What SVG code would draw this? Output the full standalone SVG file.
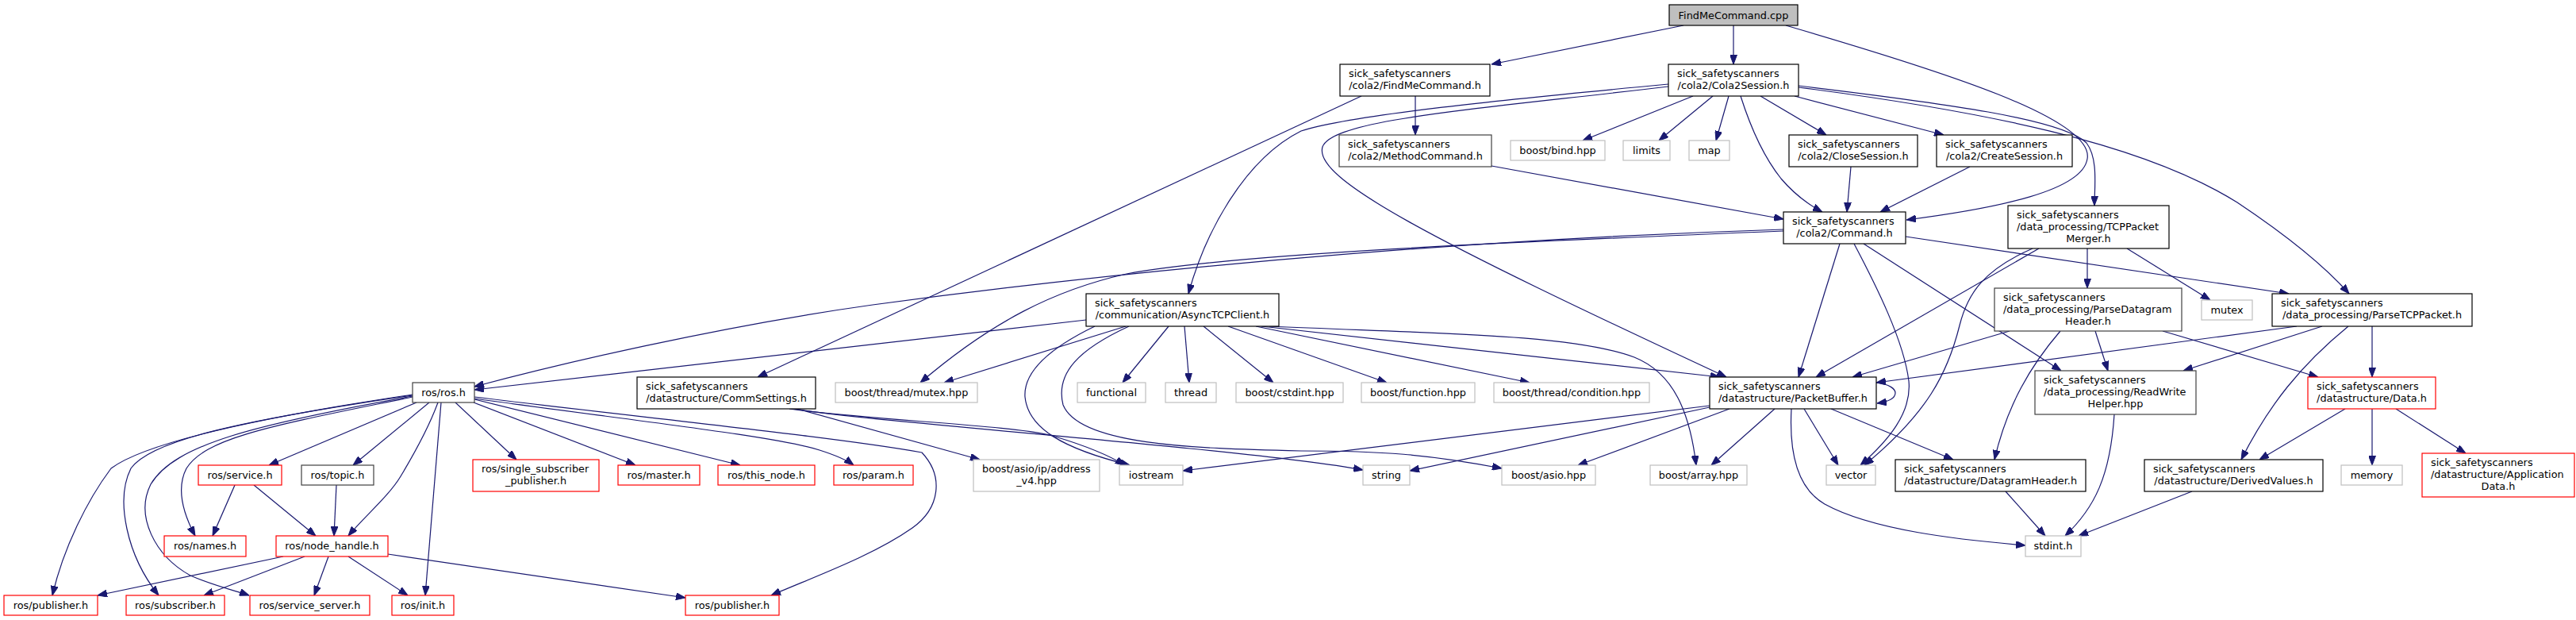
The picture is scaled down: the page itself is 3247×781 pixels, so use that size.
<svg xmlns="http://www.w3.org/2000/svg" width="3247" height="781" viewBox="0 0 3247 781">
<style>
rect{fill:#fff;stroke-width:1.2}
.k{stroke:#000}
.d{stroke:#404040}
.g{stroke:#bfbfbf}
.r{stroke:#ff0000}
.root{fill:#bfbfbf;stroke:#000}
text{font-family:"DejaVu Sans","Liberation Sans",sans-serif;font-size:12.85px;fill:#000}
.c{text-anchor:middle}
#edges path{fill:none;stroke:#191970;stroke-width:1.2;marker-end:url(#a)}
</style>
<defs>
<marker id="a" markerWidth="12" markerHeight="9" refX="12" refY="4.5" orient="auto" markerUnits="userSpaceOnUse"><path d="M0,0 L12,4.5 L0,9 z" fill="#191970" stroke="#191970" stroke-width="1"/></marker>
</defs>
<rect x="0" y="0" width="3247" height="781" style="fill:#fff;stroke:none"/>
<g id="edges">
<path d="M2122,32 L1880,81"/>
<path d="M2185,32 L2185,81"/>
<path d="M2251,32 C2450,90 2640,150 2631,200 C2625,240 2520,262 2403,277"/>
<path d="M1784,121 L1784,170"/>
<path d="M1716,121 L955,475"/>
<path d="M1880,209 L2248,276"/>
<path d="M2134,121 L1995,177"/>
<path d="M2159,121 L2091,177"/>
<path d="M2179,121 L2163,177"/>
<path d="M2219,121 L2302,170"/>
<path d="M2262,121 L2450,170"/>
<path d="M2194,121 C2208,165 2225,200 2245,225 C2262,245 2280,258 2297,267"/>
<path d="M2267,108 C2450,130 2600,150 2630,180 C2645,200 2640,235 2640,259"/>
<path d="M2267,110 C2500,140 2700,180 2820,255 C2880,295 2930,335 2961,370"/>
<path d="M2103,106 C1900,125 1700,145 1640,165 C1570,200 1520,290 1498,370"/>
<path d="M2103,109 C1860,138 1680,150 1667,185 C1655,225 1800,300 2176,475"/>
<path d="M2248,289 C1900,300 1500,330 1100,384 C900,412 700,460 598,487"/>
<path d="M2248,291 C1900,305 1550,320 1420,345 C1330,365 1250,405 1160,482"/>
<path d="M2319,307 L2267,475"/>
<path d="M2337,307 C2365,360 2400,430 2406,480 C2410,520 2380,555 2345,586"/>
<path d="M2349,307 L2598,467"/>
<path d="M2402,298 L2885,370"/>
<path d="M2333,210 L2328,267"/>
<path d="M2483,210 L2370,267"/>
<path d="M2631,313 L2631,363"/>
<path d="M2681,313 L2786,378"/>
<path d="M2570,313 L2289,475"/>
<path d="M2562,313 C2500,340 2480,370 2470,410 C2455,470 2430,520 2350,586"/>
<path d="M2533,417 L2335,475"/>
<path d="M2597,417 C2560,460 2530,510 2514,579"/>
<path d="M2641,417 L2657,467"/>
<path d="M2726,417 L2922,475"/>
<path d="M2895,411 L2365,482"/>
<path d="M2927,411 L2752,467"/>
<path d="M2960,411 C2900,460 2860,510 2825,579"/>
<path d="M2990,411 L2990,475"/>
<path d="M2956,515 L2848,579"/>
<path d="M2990,515 L2990,586"/>
<path d="M3020,515 L3108,571"/>
<path d="M2763,619 L2620,675"/>
<path d="M2665,522 C2660,600 2640,640 2603,675"/>
<path d="M2528,619 L2578,675"/>
<path d="M2365,482 C2382,484 2389,490 2389,495 C2389,502 2380,506 2366,508"/>
<path d="M2258,515 C2255,570 2265,615 2300,635 C2360,668 2470,680 2553,687"/>
<path d="M2308,515 L2462,579"/>
<path d="M2274,515 L2317,586"/>
<path d="M2237,515 L2157,586"/>
<path d="M2180,515 L1989,586"/>
<path d="M2155,513 L1777,593"/>
<path d="M2155,511 L1491,593"/>
<path d="M1369,403 L598,491"/>
<path d="M1419,411 L1190,482"/>
<path d="M1473,411 L1415,482"/>
<path d="M1493,411 L1499,482"/>
<path d="M1517,411 L1605,482"/>
<path d="M1548,411 L1748,482"/>
<path d="M1583,411 L1928,482"/>
<path d="M1590,411 L2168,475"/>
<path d="M1600,411 C1800,420 1980,420 2060,450 C2110,470 2130,520 2138,586"/>
<path d="M1423,411 C1360,440 1330,470 1340,510 C1360,560 1500,565 1640,568 C1740,568 1800,572 1893,590"/>
<path d="M1380,411 C1320,440 1290,470 1292,500 C1296,540 1340,565 1424,586"/>
<path d="M995,515 C1100,530 1280,535 1330,550 C1370,562 1400,575 1418,586"/>
<path d="M1000,515 C1100,530 1300,545 1500,565 C1600,575 1680,585 1718,592"/>
<path d="M1005,515 L1235,579"/>
<path d="M520,497 C300,530 180,560 140,590 C110,630 80,690 66,750"/>
<path d="M520,498 C300,530 190,555 165,590 C145,630 160,700 200,750"/>
<path d="M520,499 C320,535 220,560 190,610 C170,650 195,700 240,725 C270,738 300,745 314,750"/>
<path d="M520,500 C350,535 260,550 235,590 C222,615 230,645 246,675"/>
<path d="M525,507 L339,586"/>
<path d="M541,507 L445,586"/>
<path d="M552,507 C540,540 520,575 505,600 C490,625 460,650 439,675"/>
<path d="M556,507 L536,750"/>
<path d="M574,507 L651,579"/>
<path d="M597,507 L801,586"/>
<path d="M598,503 L933,586"/>
<path d="M598,502 C800,530 980,550 1033,567 C1055,574 1068,580 1076,586"/>
<path d="M598,500 C800,525 1050,550 1162,570 C1190,600 1185,640 1150,665 C1100,700 1030,725 972,750"/>
<path d="M296,611 L268,675"/>
<path d="M320,611 L398,675"/>
<path d="M424,611 L421,675"/>
<path d="M357,701 L123,750"/>
<path d="M384,701 L257,750"/>
<path d="M414,701 L396,750"/>
<path d="M439,701 L514,750"/>
<path d="M489,698 L864,753"/>
</g>
<g id="n1"><rect class="root" x="2104" y="6" width="162" height="26"/><text class="c" x="2185" y="23.5">FindMeCommand.cpp</text></g>
<g id="n2"><rect class="k" x="1689" y="81" width="189" height="40"/><text x="1700" y="97">sick_safetyscanners</text><text class="c" x="1783.5" y="112">/cola2/FindMeCommand.h</text></g>
<g id="n3"><rect class="k" x="2103" y="81" width="164" height="40"/><text x="2114" y="97">sick_safetyscanners</text><text class="c" x="2185" y="112">/cola2/Cola2Session.h</text></g>
<g id="n4"><rect class="d" x="1688" y="170" width="192" height="40"/><text x="1699" y="186">sick_safetyscanners</text><text class="c" x="1784" y="201">/cola2/MethodCommand.h</text></g>
<g id="n5"><rect class="g" x="1904" y="177" width="119" height="25"/><text class="c" x="1963.5" y="194">boost/bind.hpp</text></g>
<g id="n6"><rect class="g" x="2046" y="177" width="59" height="25"/><text class="c" x="2075.5" y="194">limits</text></g>
<g id="n7"><rect class="g" x="2129" y="177" width="51" height="25"/><text class="c" x="2154.5" y="194">map</text></g>
<g id="n8"><rect class="k" x="2255" y="170" width="162" height="40"/><text x="2266" y="186">sick_safetyscanners</text><text class="c" x="2336" y="201">/cola2/CloseSession.h</text></g>
<g id="n9"><rect class="k" x="2441" y="170" width="171" height="40"/><text x="2452" y="186">sick_safetyscanners</text><text class="c" x="2526.5" y="201">/cola2/CreateSession.h</text></g>
<g id="n10"><rect class="k" x="2248" y="267" width="154" height="40"/><text x="2259" y="283">sick_safetyscanners</text><text class="c" x="2325" y="298">/cola2/Command.h</text></g>
<g id="n11"><rect class="k" x="2531" y="259" width="203" height="54"/><text x="2542" y="275">sick_safetyscanners</text><text x="2542" y="290">/data_processing/TCPPacket</text><text class="c" x="2632.5" y="305">Merger.h</text></g>
<g id="n12"><rect class="k" x="1369" y="370" width="243" height="41"/><text x="1380" y="386">sick_safetyscanners</text><text class="c" x="1490.5" y="401">/communication/AsyncTCPClient.h</text></g>
<g id="n13"><rect class="d" x="2514" y="363" width="236" height="54"/><text x="2525" y="379">sick_safetyscanners</text><text x="2525" y="394">/data_processing/ParseDatagram</text><text class="c" x="2632" y="409">Header.h</text></g>
<g id="n14"><rect class="g" x="2775" y="378" width="64" height="25"/><text class="c" x="2807" y="395">mutex</text></g>
<g id="n15"><rect class="k" x="2864" y="370" width="252" height="41"/><text x="2875" y="386">sick_safetyscanners</text><text class="c" x="2990" y="401">/data_processing/ParseTCPPacket.h</text></g>
<g id="n16"><rect class="d" x="520" y="482" width="78" height="25"/><text class="c" x="559" y="499">ros/ros.h</text></g>
<g id="n17"><rect class="k" x="803" y="475" width="225" height="40"/><text x="814" y="491">sick_safetyscanners</text><text class="c" x="915.5" y="506">/datastructure/CommSettings.h</text></g>
<g id="n18"><rect class="g" x="1053" y="482" width="179" height="25"/><text class="c" x="1142.5" y="499">boost/thread/mutex.hpp</text></g>
<g id="n19"><rect class="g" x="1358" y="482" width="86" height="25"/><text class="c" x="1401" y="499">functional</text></g>
<g id="n20"><rect class="g" x="1469" y="482" width="64" height="25"/><text class="c" x="1501" y="499">thread</text></g>
<g id="n21"><rect class="g" x="1558" y="482" width="135" height="25"/><text class="c" x="1625.5" y="499">boost/cstdint.hpp</text></g>
<g id="n22"><rect class="g" x="1716" y="482" width="143" height="25"/><text class="c" x="1787.5" y="499">boost/function.hpp</text></g>
<g id="n23"><rect class="g" x="1883" y="482" width="196" height="25"/><text class="c" x="1981" y="499">boost/thread/condition.hpp</text></g>
<g id="n24"><rect class="k" x="2155" y="475" width="210" height="40"/><text x="2166" y="491">sick_safetyscanners</text><text class="c" x="2260" y="506">/datastructure/PacketBuffer.h</text></g>
<g id="n25"><rect class="d" x="2565" y="467" width="203" height="55"/><text x="2576" y="483">sick_safetyscanners</text><text x="2576" y="498">/data_processing/ReadWrite</text><text class="c" x="2666.5" y="513">Helper.hpp</text></g>
<g id="n26"><rect class="r" x="2909" y="475" width="161" height="40"/><text x="2920" y="491">sick_safetyscanners</text><text class="c" x="2989.5" y="506">/datastructure/Data.h</text></g>
<g id="n27"><rect class="r" x="250" y="586" width="105" height="25"/><text class="c" x="302.5" y="603">ros/service.h</text></g>
<g id="n28"><rect class="d" x="380" y="586" width="91" height="25"/><text class="c" x="425.5" y="603">ros/topic.h</text></g>
<g id="n29"><rect class="r" x="596" y="579" width="159" height="40"/><text x="607" y="595">ros/single_subscriber</text><text class="c" x="675.5" y="610">_publisher.h</text></g>
<g id="n30"><rect class="r" x="779" y="586" width="103" height="25"/><text class="c" x="830.5" y="603">ros/master.h</text></g>
<g id="n31"><rect class="r" x="905" y="586" width="122" height="25"/><text class="c" x="966" y="603">ros/this_node.h</text></g>
<g id="n32"><rect class="r" x="1051" y="586" width="100" height="25"/><text class="c" x="1101" y="603">ros/param.h</text></g>
<g id="n33"><rect class="g" x="1227" y="579" width="159" height="40"/><text x="1238" y="595">boost/asio/ip/address</text><text class="c" x="1306.5" y="610">_v4.hpp</text></g>
<g id="n34"><rect class="g" x="1411" y="586" width="80" height="25"/><text class="c" x="1451" y="603">iostream</text></g>
<g id="n35"><rect class="g" x="1718" y="586" width="59" height="25"/><text class="c" x="1747.5" y="603">string</text></g>
<g id="n36"><rect class="g" x="1893" y="586" width="118" height="25"/><text class="c" x="1952" y="603">boost/asio.hpp</text></g>
<g id="n37"><rect class="g" x="2080" y="586" width="122" height="25"/><text class="c" x="2141" y="603">boost/array.hpp</text></g>
<g id="n38"><rect class="g" x="2302" y="586" width="62" height="25"/><text class="c" x="2333" y="603">vector</text></g>
<g id="n39"><rect class="k" x="2389" y="579" width="240" height="40"/><text x="2400" y="595">sick_safetyscanners</text><text class="c" x="2509" y="610">/datastructure/DatagramHeader.h</text></g>
<g id="n40"><rect class="k" x="2703" y="579" width="225" height="40"/><text x="2714" y="595">sick_safetyscanners</text><text class="c" x="2815.5" y="610">/datastructure/DerivedValues.h</text></g>
<g id="n41"><rect class="g" x="2951" y="586" width="77" height="25"/><text class="c" x="2989.5" y="603">memory</text></g>
<g id="n42"><rect class="r" x="3053" y="571" width="192" height="55"/><text x="3064" y="587">sick_safetyscanners</text><text x="3064" y="602">/datastructure/Application</text><text class="c" x="3149" y="617">Data.h</text></g>
<g id="n43"><rect class="r" x="207" y="675" width="103" height="26"/><text class="c" x="258.5" y="692">ros/names.h</text></g>
<g id="n44"><rect class="r" x="348" y="675" width="141" height="26"/><text class="c" x="418.5" y="692">ros/node_handle.h</text></g>
<g id="n45"><rect class="g" x="2553" y="675" width="70" height="26"/><text class="c" x="2588" y="692">stdint.h</text></g>
<g id="n46"><rect class="r" x="5" y="750" width="118" height="25"/><text class="c" x="64" y="767">ros/publisher.h</text></g>
<g id="n47"><rect class="r" x="159" y="750" width="124" height="25"/><text class="c" x="221" y="767">ros/subscriber.h</text></g>
<g id="n48"><rect class="r" x="315" y="750" width="151" height="25"/><text class="c" x="390.5" y="767">ros/service_server.h</text></g>
<g id="n49"><rect class="r" x="494" y="750" width="78" height="25"/><text class="c" x="533" y="767">ros/init.h</text></g>
<g id="n50"><rect class="r" x="864" y="750" width="118" height="25"/><text class="c" x="923" y="767">ros/publisher.h</text></g>
</svg>
